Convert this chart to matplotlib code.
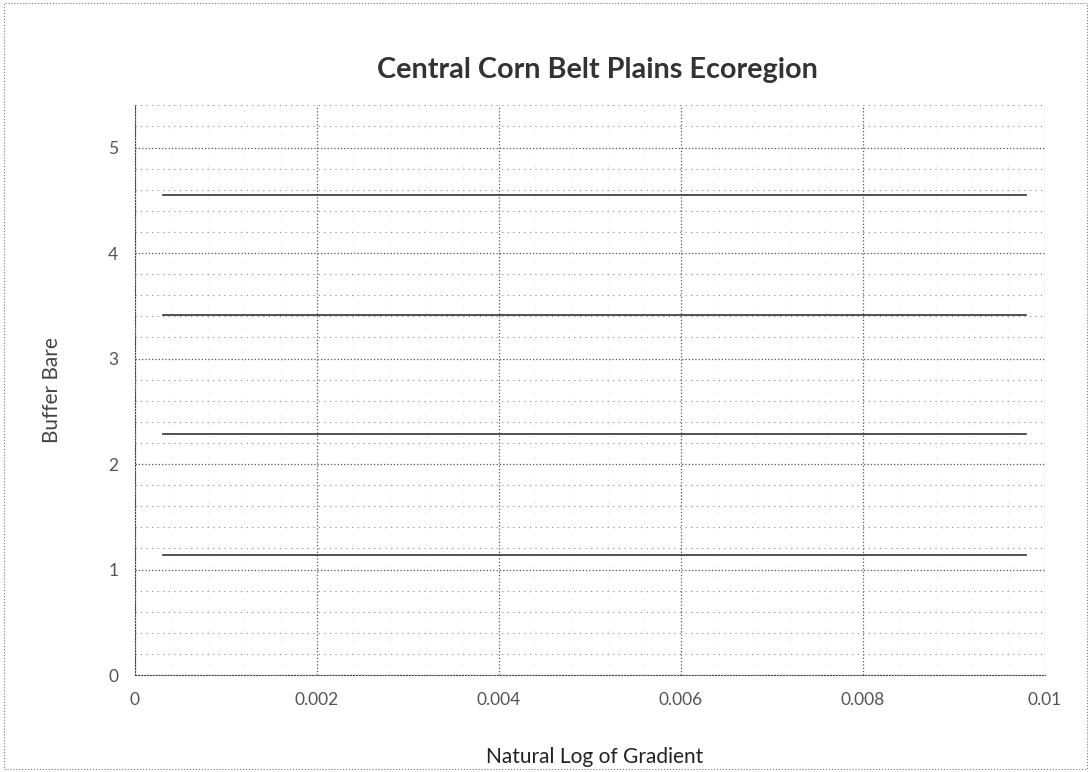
# Central Corn Belt Plains Ecoregion - Excel-style scatter with lines
import matplotlib.pyplot as plt
from matplotlib.patches import Rectangle
from matplotlib.ticker import MultipleLocator

# Data: four flat series
x_start = 0.00031
x_end = 0.00979
series_x = [x_start, x_end]
series_levels = [1.14, 2.28, 3.41, 4.55]

x_ticks = [0, 0.002, 0.004, 0.006, 0.008, 0.01]
x_tick_labels = ["0", "0.002", "0.004", "0.006", "0.008", "0.01"]
y_ticks = [0, 1, 2, 3, 4, 5]

plt.rcParams["font.family"] = ["Lato", "DejaVu Sans"]

fig = plt.figure(figsize=(10.91, 7.72), dpi=100)
ax = fig.add_axes([0.1237, 0.1256, 0.834, 0.738])

for level in series_levels:
    ax.plot(series_x, [level, level], color="#333333", linewidth=1.2)

ax.set_xlim(0, 0.01)
ax.set_ylim(0, 5.4)
ax.set_xticks(x_ticks)
ax.set_xticklabels(x_tick_labels)
ax.set_yticks(y_ticks)
ax.yaxis.set_minor_locator(MultipleLocator(0.2))
ax.xaxis.set_minor_locator(MultipleLocator(0.0004))

ax.grid(which="major", linestyle=":", color="#555555", linewidth=0.9)
ax.grid(which="minor", axis="y", linestyle=(0, (1, 4)), color="#888888", linewidth=0.8)
ax.grid(which="minor", axis="x", linestyle=(0, (1, 12)), color="#cccccc", linewidth=0.6)

for side in ["top", "right"]:
    ax.spines[side].set_visible(False)
for side in ["left", "bottom"]:
    ax.spines[side].set_linestyle(":")
    ax.spines[side].set_color("#444444")

ax.tick_params(which="both", length=0, labelsize=12.5, labelcolor="#555555", pad=12)

# axis titles placed in figure coordinates to match the reference
fig.text(595 / 1091, 1 - 757 / 772, "Natural Log of Gradient", ha="center", va="center",
         fontsize=15, color="#222222")
fig.text(52 / 1091, 1 - 390 / 772, "Buffer Bare", ha="center", va="center",
         rotation=90, fontsize=15, color="#444444")

fig.text(0.548, 0.909, "Central Corn Belt Plains Ecoregion", ha="center", va="center",
         fontsize=20.7, fontweight="bold", color="#333333")

# dotted chart-area border
fig.patches.append(Rectangle((0.004, 0.004), 0.992, 0.992, transform=fig.transFigure,
                             fill=False, linestyle=":", edgecolor="#777777", linewidth=0.8))

fig.savefig("out.png", dpi=100)
